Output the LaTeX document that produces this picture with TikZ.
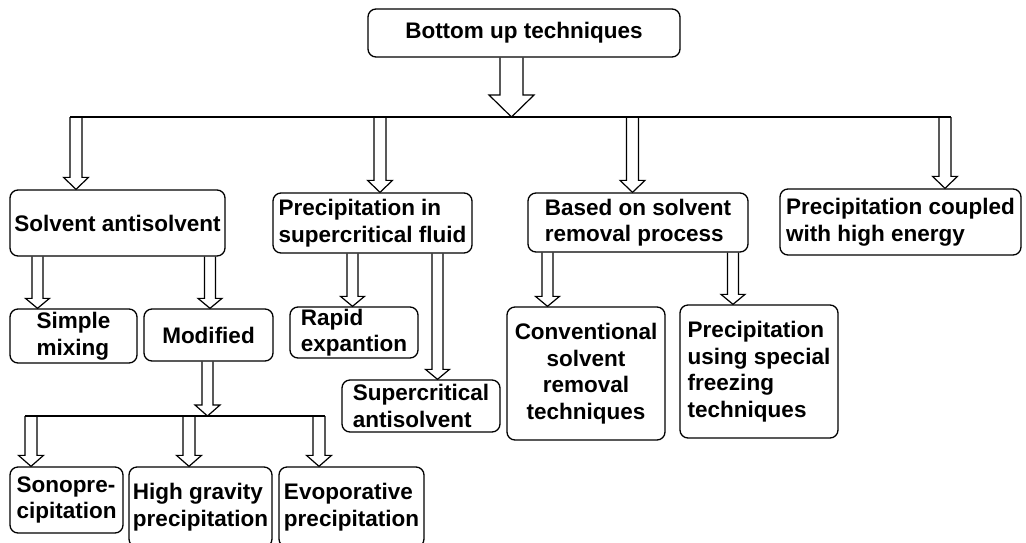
\documentclass[tikz,border=0pt]{standalone}
\usepackage{fontspec}
\setmainfont{Liberation Sans}
\usetikzlibrary{calc,positioning}
\tikzset{
	box/.style={rectangle, draw, line width=1.3pt, rounded corners=8pt, inner sep=1pt, align=left,
		font=\bfseries\fontsize{22.5}{26.5}\selectfont},
	bus/.style={line width=1.2pt}
}
% hollow block arrow: shaft half width, head half width, head length, x, from, to
\newcommand{\hollowarrow}[6]{%
	\draw[line width=1.2pt] let \p1=(#5), \p2=(#6) in
	(#4pt-#1pt,\y1) -- (#4pt-#1pt,\y2+#3pt) -- (#4pt-#2pt,\y2+#3pt) -- (#4pt,\y2)
	-- (#4pt+#2pt,\y2+#3pt) -- (#4pt+#1pt,\y2+#3pt) -- (#4pt+#1pt,\y1);}

\begin{document}
\begin{tikzpicture}[x=1pt,y=-1pt]
    \useasboundingbox (0,0) rectangle (1026,542);

    \node[box, minimum width=312pt, minimum height=48pt, align=center] (top) at (524,33) {Bottom up techniques};

    \node[box, minimum width=215pt, minimum height=66pt] (sas) at (117.5,223) {Solvent antisolvent};
    \node[box, minimum width=199pt, minimum height=60pt] (psf) at (372.5,223) {Precipitation in\\supercritical fluid};
    \node[box, minimum width=220pt, minimum height=59pt] (bsr) at (638,222.5) {Based on solvent\\removal process};
    \node[box, minimum width=241pt, minimum height=66pt] (pce) at (900.5,222) {Precipitation coupled\\with high energy};

    \node[box, minimum width=127pt, minimum height=54pt] (smx) at (73.5,336) {Simple\\mixing};
    \node[box, minimum width=129pt, minimum height=52pt] (mod) at (208.5,335) {Modified};
    \node[box, minimum width=128pt, minimum height=51pt] (rex) at (354,332.5) {Rapid\\expantion};
    \node[box, minimum width=158pt, minimum height=52pt] (sca) at (421,406) {Supercritical\\antisolvent};
    \node[box, minimum width=158pt, minimum height=133pt, align=center] (crt) at (586,373.5) {Conventional\\solvent\\removal\\techniques};
    \node[box, minimum width=158pt, minimum height=133pt] (psft) at (759,371.5) {Precipitation\\using special\\freezing\\techniques};

    \node[box, minimum width=113pt, minimum height=66pt] (sono) at (66.5,500) {Sonopre-\\cipitation};
    \node[box, minimum width=143pt, minimum height=80pt] (hgp) at (200.5,507) {High gravity\\precipitation};
    \node[box, minimum width=145pt, minimum height=80pt] (evp) at (351.5,507) {Evoporative\\precipitation};

    \coordinate (busL) at (70,117);
    \coordinate (busR) at (951,117);
    \coordinate (bus2L) at (25,416);
    \coordinate (bus2R) at (325,416);
    \draw[bus] (busL) -- (busR);
    \draw[bus] (bus2L) -- (bus2R);

    \hollowarrow{11.5}{22.5}{22}{511.5}{top.south}{busL}
    \hollowarrow{6}{12.5}{12}{76}{busL}{sas.north}
    \hollowarrow{6}{12.5}{12}{380}{busL}{psf.north}
    \hollowarrow{6}{12.5}{12}{632.5}{busL}{bsr.north}
    \hollowarrow{6}{12.5}{12}{945}{busL}{pce.north}

    \hollowarrow{5.5}{12}{10}{37.5}{sas.south}{smx.north}
    \hollowarrow{5.5}{12}{10}{210}{sas.south}{mod.north}
    \hollowarrow{5.5}{12}{10}{352.5}{psf.south}{rex.north}
    \hollowarrow{5.5}{12}{10}{437.5}{psf.south}{sca.north}
    \hollowarrow{5.5}{12}{10}{547.5}{bsr.south}{crt.north}
    \hollowarrow{5.5}{12}{10}{733}{bsr.south}{psft.north}

    \hollowarrow{5.5}{12.5}{11}{207.5}{mod.south}{bus2L}
    \hollowarrow{6}{12.5}{11}{31}{bus2L}{sono.north}
    \hollowarrow{6}{12.5}{11}{189}{bus2L}{hgp.north}
    \hollowarrow{6}{12.5}{11}{319}{bus2L}{evp.north}
\end{tikzpicture}
\end{document}
